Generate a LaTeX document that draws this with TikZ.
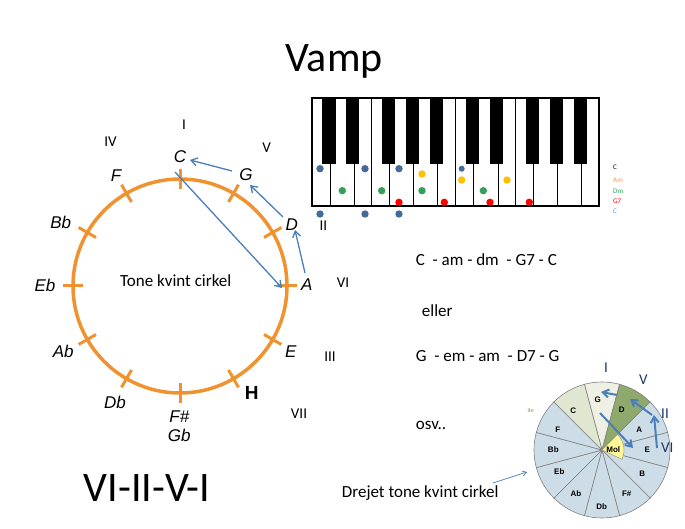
\documentclass[tikz,border=0pt]{standalone}
\usepackage{fontspec}
\setmainfont{Carlito}
\newfontfamily\handf{Liberation Sans}
\usetikzlibrary{arrows.meta,calc}
\definecolor{orng}{RGB}{240,146,48}
\definecolor{arrblue}{RGB}{74,126,187}
\definecolor{dotblue}{RGB}{68,105,155}
\definecolor{dotyel}{RGB}{255,192,0}
\definecolor{dotgrn}{RGB}{51,160,90}
\definecolor{pieblue}{RGB}{205,221,232}
\definecolor{pieG}{RGB}{238,240,227}
\definecolor{pieC}{RGB}{224,231,208}
\definecolor{pieD}{RGB}{143,168,108}
\definecolor{pieMol}{RGB}{255,247,153}
\definecolor{navy}{RGB}{31,56,100}
\definecolor{legor}{RGB}{247,150,70}
\definecolor{leggr}{RGB}{46,163,90}
\definecolor{legbl}{RGB}{91,155,213}
\tikzset{
  lbl/.style={font=\handf\itshape\fontsize{17}{20}\selectfont, inner sep=0pt},
  rom/.style={font=\fontsize{15}{18}\selectfont, inner sep=0pt, anchor=base},
  prom/.style={font=\fontsize{15}{18}\selectfont, inner sep=0pt, anchor=base, text=navy},
  txt/.style={font=\fontsize{17}{20}\selectfont, inner sep=0pt, anchor=base west},
  big/.style={font=\fontsize{42}{48}\selectfont, inner sep=0pt, anchor=base},
  plbl/.style={font=\handf\bfseries\fontsize{8}{9}\selectfont, inner sep=0pt},
  leg/.style={font=\fontsize{7}{8}\selectfont, inner sep=0pt, anchor=west},
  carrow/.style={draw=arrblue, line width=1.3pt, -{Straight Barb[length=6pt,width=8pt]}},
  parrow/.style={draw=arrblue, line width=2pt, -{Straight Barb[length=6pt,width=8pt]}},
  tick/.style={draw=orng, line width=3pt}
}
\begin{document}
\begin{tikzpicture}[x=1pt,y=1pt]
\useasboundingbox (0,0) rectangle (685,529);

% titles
\node[big] (title) at (334,457.3) {Vamp};
\node[big] (prog) at (147,27.3) {VI-II-V-I};

% circle of fifths
\coordinate (cc) at (180,243);
\draw[orng, line width=3.5pt] (cc) circle (107);
\foreach \k in {0,...,11} {
  \draw[tick] ($(cc)+(90-30*\k:97)$) -- ($(cc)+(90-30*\k:117)$);
}
\node[lbl] (nC) at (180,372.3) {C};
\node[lbl] (nG) at (246,354) {G};
\node[lbl] (nD) at (291.7,304) {D};
\node[lbl] (nA) at (306.7,244) {A};
\node[lbl] (nE) at (290.7,177.3) {E};
\node[font=\handf\bfseries\fontsize{19}{22}\selectfont, inner sep=0pt] (nH) at (251.7,135.7) {H};
\node[lbl] (nFs) at (179.3,112.3) {F\#};
\node[lbl] (nGb) at (179.3,94) {Gb};
\node[lbl] (nDb) at (115,126.3) {Db};
\node[lbl] (nAb) at (63.3,177.3) {Ab};
\node[lbl] (nEb) at (45,244) {Eb};
\node[lbl] (nBb) at (60.7,306.3) {Bb};
\node[lbl] (nF) at (116,353) {F};
\node[txt] (tkc) at (120,242.3) {Tone kvint cirkel};

% roman numerals
\node[rom] (rIV) at (110.5,382.3) {IV};
\node[rom] (rI) at (184,399) {I};
\node[rom] (rV) at (266.7,376.7) {V};
\node[rom] (rVI) at (343,241.3) {VI};
\node[rom] (rIII) at (330,167.3) {III};
\node[rom] (rVII) at (299,110.7) {VII};
\node[rom] (rII) at (323.3,298) {II};

% circle arrows
\coordinate (g1) at (232,358); \coordinate (c1) at (190,369);
\coordinate (d1) at (283,312); \coordinate (g2) at (250,344);
\coordinate (a1) at (305,256); \coordinate (d2) at (295,299);
\coordinate (c2) at (175,357); \coordinate (a2) at (282,241);
\draw[carrow] (g1) -- (c1);
\draw[carrow] (d1) -- (g2);
\draw[carrow] (a1) -- (d2);
\draw[carrow] (c2) -- (a2);

% piano
\fill[white] (312,323) rectangle (599,431);
\foreach \x in {330,354,371.7,389.3,413.3,437.3,455.7,473.3,498,515.7,533.3,557.7,581.7} {
  \draw[black, line width=0.8pt] (\x,323) -- (\x,431);
}
\foreach \a/\b in {322.3/335.7,346/359.3,382/395.3,406/419.3,430/443.3,466/479.3,490/503.3,526/539.3,550/563.3,574/587.3} {
  \fill[black] (\a,365) rectangle (\b,431);
}
\draw[black, line width=1.3pt] (312,323) rectangle (599,431);
% dots
\foreach \x in {320,365,399} {
  \fill[dotblue] (\x,360.3) circle (3.7);
  \fill[dotblue] (\x,315) circle (3.7);
}
\fill[dotblue] (461.7,360.3) circle (3);
\foreach \x/\y in {422/355,461.7/349,507/349} { \fill[dotyel] (\x,\y) circle (3.7); }
\foreach \x in {342.3,381.7,422,483.3} { \fill[dotgrn] (\x,338.3) circle (3.7); }
\foreach \x in {399,444.3,490,529.3} { \fill[red] (\x,326.7) circle (3.7); }
% legend
\node[leg] (l1) at (613,361.3) {C};
\node[leg, text=legor] (l2) at (613,349) {Am};
\node[leg, text=leggr] (l3) at (613,337.3) {Dm};
\node[leg, text=red] (l4) at (613,327.3) {G7};
\node[leg, text=legbl] (l5) at (613,317.3) {C};

% text
\node[txt] (t1) at (415.7,263) {C\ \ - am - dm\ \ - G7 - C};
\node[txt] (t2) at (421.7,212.3) {eller};
\node[txt] (t3) at (415.7,167.3) {G\ \ - em - am\ \ - D7 - G};
\node[txt] (t4) at (415.7,99) {osv..};
\node[txt] (t5) at (341.7,31.7) {Drejet tone kvint cirkel};
\coordinate (dr1) at (493,46); \coordinate (dr2) at (527,57);
\draw[draw=arrblue, line width=0.7pt, -{Straight Barb[length=4pt,width=5pt]}] (dr1) -- (dr2);
\node[font=\fontsize{6}{7}\selectfont, text=gray!70!olive, inner sep=0pt] (ite) at (530.7,119) {ite};

% pie
\coordinate (pc) at (602,79);
\foreach \k/\col in {0/pieG,1/pieD,2/pieblue,3/pieblue,4/pieblue,5/pieblue,6/pieblue,7/pieblue,8/pieblue,9/pieblue,10/pieblue,11/pieC} {
  \filldraw[fill=\col, draw=gray, line width=0.6pt] (pc) -- ++(105-30*\k:68) arc[start angle=105-30*\k, end angle=75-30*\k, radius=68] -- cycle;
}
\filldraw[fill=pieMol, draw=gray!80!yellow, line width=0.6pt] (pc) -- ++(45:22) arc[start angle=45, end angle=-25, radius=22] -- cycle;
\node[plbl] (pG) at (597.7,129) {G};
\node[plbl] (pD) at (621.7,119) {D};
\node[plbl] (pA) at (639.3,99.7) {A};
\node[plbl] (pE) at (647.3,79) {E};
\node[plbl] (pB) at (642.3,55) {B};
\node[plbl] (pFs) at (626.7,35.7) {F\#};
\node[plbl] (pDb) at (601.7,22.3) {Db};
\node[plbl] (pAb) at (576,35.7) {Ab};
\node[plbl] (pEb) at (559.3,57.3) {Eb};
\node[plbl] (pBb) at (553.3,79) {Bb};
\node[plbl] (pF) at (557.7,99) {F};
\node[plbl] (pC) at (573.3,118) {C};
\node[plbl] (pMol) at (613.3,79) {Mol};
\node[prom] (qI) at (606,156.3) {I};
\node[prom] (qV) at (643.3,144) {V};
\node[prom] (qII) at (665,110.7) {II};
\node[prom] (qVI) at (667.3,76.3) {VI};
\coordinate (p1) at (617,134); \coordinate (p2) at (601,137);
\coordinate (p3) at (652,114); \coordinate (p4) at (630,130);
\coordinate (p5) at (657,81); \coordinate (p6) at (654,114);
\coordinate (p7) at (600,116); \coordinate (p8) at (633,81);
\draw[parrow] (p1) -- (p2);
\draw[parrow] (p3) -- (p4);
\draw[parrow] (p5) -- (p6);
\draw[parrow] (p7) -- (p8);
\end{tikzpicture}
\end{document}
